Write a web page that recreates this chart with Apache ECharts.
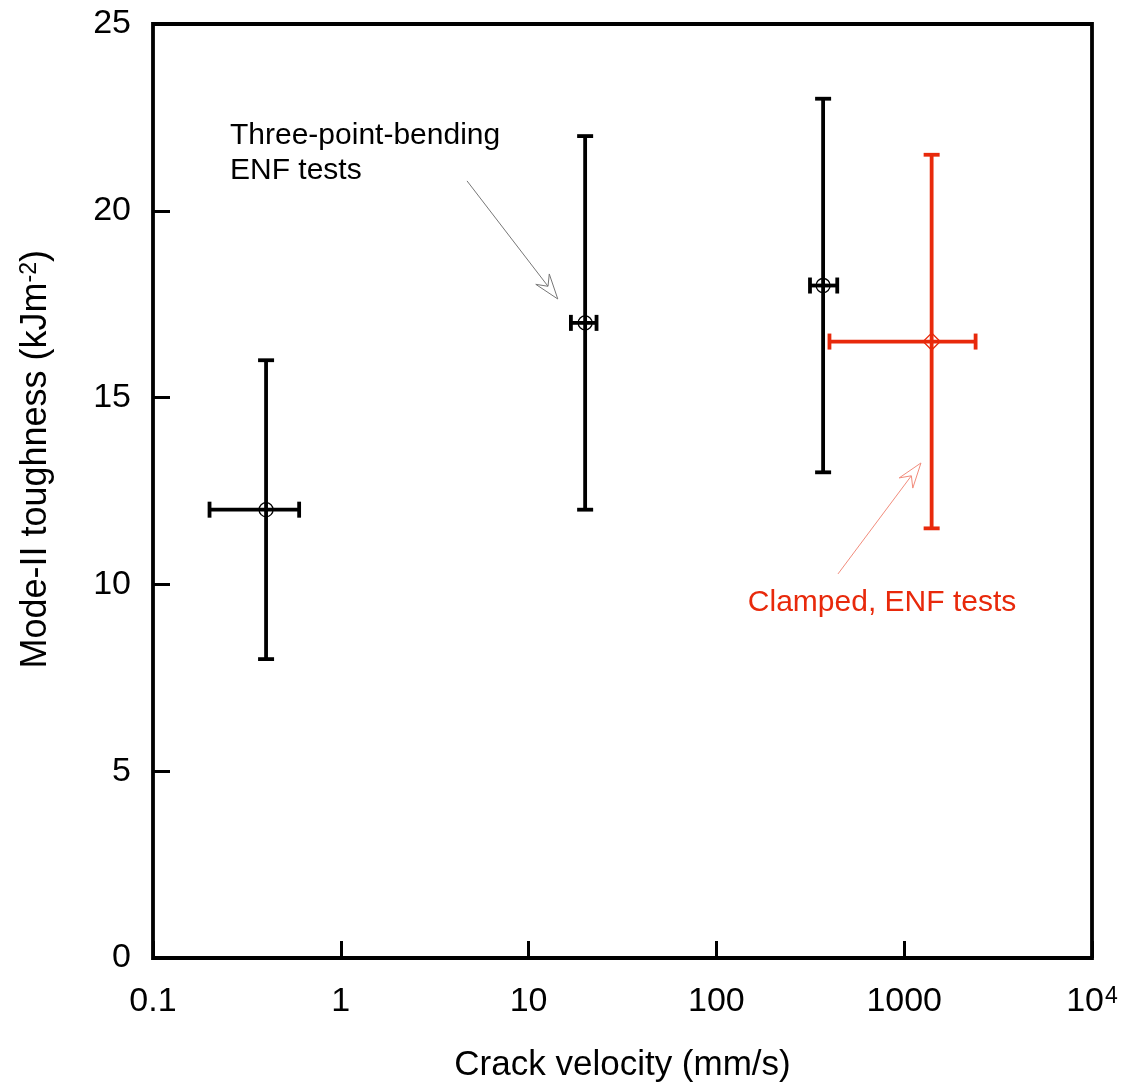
<!DOCTYPE html>
<html><head><meta charset="utf-8">
<script src="https://cdn.jsdelivr.net/npm/echarts@6/dist/echarts.min.js"></script>
<style>html,body{margin:0;padding:0;background:#fff}#c{width:1127px;height:1089px}</style>
</head><body><div id="c"></div>
<script>
// Three-point-bending ENF tests
const tpVelocity = [0.4, 20, 370];
const tpToughness = [12, 17, 18];
const tpVelLow = [0.2, 16.8, 315];
const tpVelHigh = [0.6, 23, 440];
const tpToughLow = [8, 12, 13];
const tpToughHigh = [16, 22, 23];
// Clamped ENF tests
const clVelocity = [1400];
const clToughness = [16.5];
const clVelLow = [400];
const clVelHigh = [2400];
const clToughLow = [11.5];
const clToughHigh = [21.5];
// axis ticks
const yTicks = [0, 5, 10, 15, 20, 25];
const xTickLabels = {0.1: '0.1', 1: '1', 10: '10', 100: '100', 1000: '1000', 10000: '{b|10}{s|4}'};
// annotations: [xStart, yStart, xEnd, yEnd]
const tpArrow = [4.7, 20.8, 14.3, 17.64];
const clArrow = [444, 10.28, 1228, 13.25];
const tpLabelPos = [0.257, 21.53];
const clLabelPos = [147, 9.5];

const BLACK = '#000';
const RED = '#e8290b';
const FONT = 'Liberation Sans, Arial, Helvetica, sans-serif';
const TICK_FS = 34;

function build(v, t, vl, vh, tl, th) {
  return v.map((x, i) => [x, t[i], vl[i], vh[i], tl[i], th[i]]);
}

function errRender(color, marker) {
  return function (params, api) {
    const x = api.value(0), y = api.value(1);
    const c = api.coord([x, y]);
    const xl = api.coord([api.value(2), y]);
    const xh = api.coord([api.value(3), y]);
    const yl = api.coord([x, api.value(4)]);
    const yh = api.coord([x, api.value(5)]);
    const cap = 8, lw = 3.8;
    const st = {stroke: color, lineWidth: lw};
    const children = [
      {type: 'line', shape: {x1: c[0], y1: yl[1], x2: c[0], y2: yh[1]}, style: st},
      {type: 'line', shape: {x1: c[0] - cap, y1: yl[1], x2: c[0] + cap, y2: yl[1]}, style: st},
      {type: 'line', shape: {x1: c[0] - cap, y1: yh[1], x2: c[0] + cap, y2: yh[1]}, style: st},
      {type: 'line', shape: {x1: xl[0], y1: c[1], x2: xh[0], y2: c[1]}, style: st},
      {type: 'line', shape: {x1: xl[0], y1: c[1] - cap, x2: xl[0], y2: c[1] + cap}, style: st},
      {type: 'line', shape: {x1: xh[0], y1: c[1] - cap, x2: xh[0], y2: c[1] + cap}, style: st}
    ];
    if (marker === 'circle') {
      children.push({type: 'circle', shape: {cx: c[0], cy: c[1], r: 7}, style: {fill: 'none', stroke: color, lineWidth: 1.3}});
    } else {
      const r = 8.5;
      children.push({type: 'polygon', shape: {points: [[c[0], c[1] - r], [c[0] + r, c[1]], [c[0], c[1] + r], [c[0] - r, c[1]]]}, style: {fill: 'none', stroke: color, lineWidth: 1.3}});
    }
    return {type: 'group', children};
  };
}

function arrowRender(params, api) {
  const p1 = api.coord([api.value(0), api.value(1)]);
  const p2 = api.coord([api.value(2), api.value(3)]);
  const color = params.dataIndex === 0 ? '#777' : '#f28c7c';
  const dx = p2[0] - p1[0], dy = p2[1] - p1[1];
  const L = Math.sqrt(dx * dx + dy * dy);
  const ux = dx / L, uy = dy / L, nx = -uy, ny = ux;
  const hl = 25, hw = 8.5, notch = 16;
  const wingL = [p2[0] - ux * hl + nx * hw, p2[1] - uy * hl + ny * hw];
  const wingR = [p2[0] - ux * hl - nx * hw, p2[1] - uy * hl - ny * hw];
  const nb = [p2[0] - ux * notch, p2[1] - uy * notch];
  return {type: 'group', children: [
    {type: 'line', shape: {x1: p1[0], y1: p1[1], x2: nb[0], y2: nb[1]}, style: {stroke: color, lineWidth: 1}},
    {type: 'polygon', shape: {points: [p2, wingL, nb, wingR]}, style: {fill: '#fff', stroke: color, lineWidth: 1}}
  ]};
}

function labelRender(params, api) {
  const p = api.coord([api.value(0), api.value(1)]);
  const isRed = params.dataIndex === 1;
  return {type: 'text', x: p[0], y: p[1], style: {
    text: isRed ? 'Clamped, ENF tests' : 'Three-point-bending\nENF tests',
    fill: isRed ? RED : BLACK, font: '30px ' + FONT, lineHeight: 35,
    align: 'left', verticalAlign: 'middle'
  }};
}

const chart = echarts.init(document.getElementById('c'), null, {renderer: 'canvas'});
chart.setOption({
  backgroundColor: '#fff',
  animation: false,
  grid: {left: 153, top: 24, width: 939, height: 934, show: true, borderColor: '#000', borderWidth: 3.8, backgroundColor: 'transparent'},
  xAxis: {
    type: 'log', logBase: 10, min: 0.1, max: 10000,
    name: 'Crack velocity (mm/s)', nameLocation: 'middle', nameGap: 90,
    nameTextStyle: {fontSize: 35, fontFamily: FONT, color: '#000'},
    axisLine: {show: false},
    axisTick: {show: true, inside: true, length: 17, lineStyle: {color: '#000', width: 3}},
    minorTick: {show: false},
    splitLine: {show: false},
    axisLabel: {
      margin: 27, fontSize: TICK_FS, fontFamily: FONT, color: '#000',
      formatter: v => xTickLabels[+v.toPrecision(6)] || '',
      rich: {
        b: {fontSize: TICK_FS, lineHeight: TICK_FS, fontFamily: FONT, color: '#000'},
        s: {fontSize: 23, lineHeight: 14, fontFamily: FONT, color: '#000', verticalAlign: 'top', padding: [0, 0, TICK_FS - 14, 1]}
      }
    }
  },
  yAxis: {
    type: 'value', min: yTicks[0], max: yTicks[yTicks.length - 1], interval: 5,
    axisLine: {show: false},
    axisTick: {show: true, inside: true, length: 17, lineStyle: {color: '#000', width: 3}},
    splitLine: {show: false},
    axisLabel: {margin: 22, fontSize: TICK_FS, fontFamily: FONT, color: '#000'}
  },
  graphic: [{
    type: 'text', left: 18, top: 250, rotation: Math.PI / 2,
    style: {
      text: '{a|Mode-II toughness (kJm}{s|-2}{a|)}',
      rich: {a: {fontSize: 36, fontFamily: FONT, fill: '#000'}, s: {fontSize: 23, lineHeight: 14, fontFamily: FONT, fill: '#000', verticalAlign: 'top', padding: [0, 0, 22, 0]}}
    }
  }],
  series: [
    {type: 'custom', name: 'Three-point-bending ENF tests', renderItem: errRender(BLACK, 'circle'), data: build(tpVelocity, tpToughness, tpVelLow, tpVelHigh, tpToughLow, tpToughHigh), z: 3, clip: false},
    {type: 'custom', name: 'Clamped ENF tests', renderItem: errRender(RED, 'diamond'), data: build(clVelocity, clToughness, clVelLow, clVelHigh, clToughLow, clToughHigh), z: 3, clip: false},
    {type: 'custom', renderItem: arrowRender, data: [tpArrow, clArrow], z: 4, clip: false},
    {type: 'custom', renderItem: labelRender, data: [tpLabelPos, clLabelPos], z: 4, clip: false}
  ]
});
</script></body></html>
